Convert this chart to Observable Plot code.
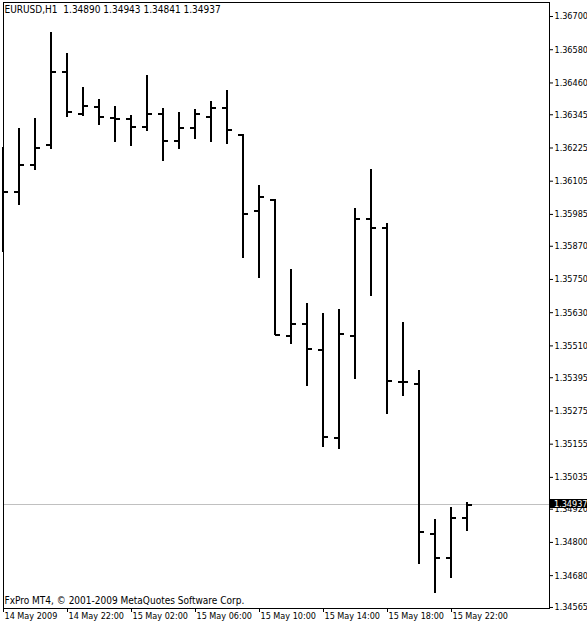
<!DOCTYPE html>
<html>
<head>
<meta charset="utf-8">
<script src="https://cdn.jsdelivr.net/npm/d3@7"></script>
<script src="https://cdn.jsdelivr.net/npm/@observablehq/plot@0.6"></script>
<style>
  html, body { margin: 0; padding: 0; background: #fff; }
  #chart svg text { white-space: pre; }
</style>
</head>
<body>
<div id="chart"></div>
<script>
// EURUSD hourly OHLC bars, 14 May 2009 18:00 to 15 May 2009 23:00
const symbol = "EURUSD,H1";
const firstBar = "2009-05-14T18:00:00Z";

const opens  = [1.36100, 1.36065, 1.36164, 1.36234, 1.36499, 1.36346, 1.36372, 1.36332, 1.36328, 1.36300,
                1.36346, 1.36250, 1.36296, 1.36336, 1.36369, 1.36272, 1.35996, 1.36038, 1.35545, 1.35589,
                1.35494, 1.35177, 1.35544, 1.35967, 1.35936, 1.35378, 1.35372, 1.34829, 1.34743, 1.34890];
const highs  = [1.36227, 1.36295, 1.36330, 1.36641, 1.36568, 1.36443, 1.36399, 1.36374, 1.36341, 1.36487,
                1.36366, 1.36352, 1.36363, 1.36393, 1.36432, 1.36272, 1.36088, 1.36038, 1.35785, 1.35663,
                1.35626, 1.35641, 1.36005, 1.36146, 1.35952, 1.35594, 1.35421, 1.34882, 1.34926, 1.34943];
const lows   = [1.35849, 1.36019, 1.36144, 1.36219, 1.36336, 1.36340, 1.36307, 1.36246, 1.36232, 1.36285,
                1.36177, 1.36219, 1.36255, 1.36246, 1.36239, 1.35825, 1.35752, 1.35548, 1.35514, 1.35364,
                1.35142, 1.35135, 1.35387, 1.35687, 1.35261, 1.35329, 1.34722, 1.34617, 1.34671, 1.34841];
const closes = [1.36065, 1.36162, 1.36225, 1.36499, 1.36354, 1.36375, 1.36336, 1.36330, 1.36300, 1.36346,
                1.36250, 1.36296, 1.36346, 1.36369, 1.36290, 1.35985, 1.36047, 1.35551, 1.35588, 1.35497,
                1.35180, 1.35552, 1.35967, 1.35936, 1.35382, 1.35378, 1.34836, 1.34745, 1.34888, 1.34937];

// price scale labels on the right
const yTicks = [1.36700, 1.36580, 1.36460, 1.36345, 1.36225, 1.36105, 1.35985, 1.35870, 1.35750, 1.35630,
                1.35510, 1.35395, 1.35275, 1.35155, 1.35035, 1.34920, 1.34800, 1.34680, 1.34565];
// time scale labels along the bottom
const xTicks = ["2009-05-14T18:00:00Z", "2009-05-14T22:00:00Z", "2009-05-15T02:00:00Z", "2009-05-15T06:00:00Z",
                "2009-05-15T10:00:00Z", "2009-05-15T14:00:00Z", "2009-05-15T18:00:00Z", "2009-05-15T22:00:00Z"];
const copyright = "FxPro MT4, \u00A9 2001-2009 MetaQuotes Software Corp.";

// layout
const width = 587, height = 625;
const margin = {top: 2, right: 38, bottom: 17, left: 3};
const barPx = 16;   // horizontal distance between consecutive hourly bars
const tickPx = 5;   // length of the open / close ticks
const yDomain = [1.345613, 1.367506];

const t0 = new Date(firstBar);
const bars = opens.map((o, i) => ({
  time: d3.utcHour.offset(t0, i),
  open: o, high: highs[i], low: lows[i], close: closes[i]
}));

const plotW = width - margin.left - margin.right;
const msPerPx = 3600e3 / barPx;
const xDomain = [t0, new Date(+t0 + plotW * msPerPx)];
const shift = (d, px) => new Date(+d + px * msPerPx);

const fmt = v => v.toFixed(5);
const last = bars[bars.length - 1];
const title = `${symbol}  ${fmt(last.open)} ${fmt(last.high)} ${fmt(last.low)} ${fmt(last.close)}`;

const firstTick = +new Date(xTicks[0]);
const fmtDay = d3.utcFormat("%d %b %Y");
const fmtHour = d3.utcFormat("%d %b %H:%M");

const barStyle = {stroke: "black", strokeWidth: 2, shapeRendering: "crispEdges"};

const chart = Plot.plot({
  width, height,
  marginTop: margin.top, marginRight: margin.right, marginBottom: margin.bottom, marginLeft: margin.left,
  style: {
    fontFamily: '"DejaVu Sans Condensed", "DejaVu Sans", sans-serif',
    fontSize: "9px",
    background: "white",
    color: "black"
  },
  x: {
    type: "utc", domain: xDomain,
    ticks: xTicks.map(d => new Date(d)),
    tickFormat: d => (+d === firstTick ? fmtDay(d) : fmtHour(d)),
    tickSize: 4, tickPadding: 0, label: null
  },
  y: {
    domain: yDomain, axis: "right",
    ticks: yTicks, tickFormat: fmt,
    tickSize: 3, tickPadding: 2, label: null
  },
  marks: [
    // last price line
    Plot.ruleY([last.close], {stroke: "#c0c0c0"}),
    // high-low range
    Plot.ruleX(bars, {x: "time", y1: "low", y2: "high", dx: -0.5, ...barStyle}),
    // open tick (left)
    Plot.ruleY(bars, {y: "open", x1: d => shift(d.time, -tickPx), x2: "time", clip: true, ...barStyle}),
    // close tick (right)
    Plot.ruleY(bars, {y: "close", x1: "time", x2: d => shift(d.time, tickPx), ...barStyle}),
    Plot.frame({stroke: "black"}),
    Plot.text([title], {frameAnchor: "top-left", text: d => d, textAnchor: "start", lineAnchor: "middle",
                        dx: 1, dy: 7, fill: "black", fontSize: 10}),
    Plot.text([copyright], {frameAnchor: "bottom-left", text: d => d, textAnchor: "start", lineAnchor: "middle",
                            dx: 1, dy: -8, fill: "black", fontSize: 10})
  ]
});

// time labels start at their tick, as on a trading terminal
d3.select(chart).selectAll('[aria-label^="x-axis"] text')
  .attr("text-anchor", "start")
  .attr("dx", 1);

// current price marker on the price scale
const yc = chart.scale("y").apply(last.close);
const marker = d3.select(chart).append("g").attr("text-anchor", "start");
marker.append("rect")
  .attr("x", width - margin.right + 1)
  .attr("y", Math.round(yc) - 5)
  .attr("width", margin.right - 1)
  .attr("height", 9)
  .attr("fill", "black");
marker.append("text")
  .attr("x", width - margin.right + 5)
  .attr("y", yc)
  .attr("dy", "0.32em")
  .attr("text-anchor", "start")
  .attr("fill", "white")
  .text(fmt(last.close));

document.getElementById("chart").appendChild(chart);
</script>
</body>
</html>
